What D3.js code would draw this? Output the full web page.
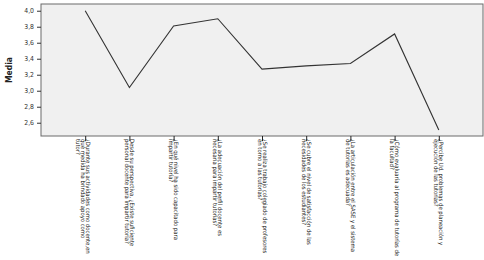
<!DOCTYPE html>
<html>
<head>
<meta charset="utf-8">
<script src="https://cdn.jsdelivr.net/npm/d3@7"></script>
<style>
  body { margin: 0; background: #fff; }
  svg text { font-family: "Liberation Sans Narrow", "DejaVu Sans Condensed", "Liberation Sans", sans-serif; }
</style>
</head>
<body>
<div id="chart"></div>
<script>
// --> DATA

var preguntas = [
    ["¿Durante sus actividades como docente,en", "qué medida ha brindado apoyo como", "tutor?"],
    ["Desde su perspectiva, ¿Existe suficiente", "personal docente para impartir tutoría?"],
    ["¿En qué nivel ha sido capacitado para", "impartir tutoría?"],
    ["¿La adecuación del perfil docente es", "necesaria para impartir tutorías?"],
    ["¿Se realiza trabajo colegiado de profesores", "en torno a las tutorías?"],
    ["¿Se cubre el nivel de satisfacción de las", "necesidades de los estudiantes?"],
    ["¿La articulación entre el SASE y el sistema", "de tutorías es adecuada?"],
    ["¿Cómo evaluaría al programa de tutorías de", "la facultad?"],
    ["¿Percibe Ud. problemas de planeación y", "ejecución de las tutorías?"]
];

var medias = [4.00, 3.04, 3.81, 3.90, 3.27, 3.31, 3.34, 3.71, 2.51];

var yTicks = [2.6, 2.8, 3.0, 3.2, 3.4, 3.6, 3.8, 4.0];

// --> SVG

var width = 484,
    height = 260;

var plot = { left: 41, top: 4, right: 483, bottom: 136 };

var svg = d3.select("#chart").append("svg")
    .attr("width", width)
    .attr("height", height);

var x = d3.scalePoint()
    .domain(d3.range(medias.length))
    .range([plot.left, plot.right])
    .padding(1);

var y = d3.scaleLinear()
    .domain([2.434, 4.084])
    .range([plot.bottom, plot.top]);

svg.append("rect")
    .attr("x", plot.left)
    .attr("y", plot.top)
    .attr("width", plot.right - plot.left)
    .attr("height", plot.bottom - plot.top)
    .style("fill", "#f0f0f0")
    .style("stroke", "#6a6a6a")
    .style("stroke-width", 1);

// y axis
var yAxis = svg.append("g")
    .attr("transform", "translate(" + plot.left + ",0)")
    .call(d3.axisLeft(y)
        .tickValues(yTicks)
        .tickSize(4)
        .tickPadding(3)
        .tickFormat(function (d) { return d3.format(".1f")(d).replace(".", ","); }));

yAxis.select(".domain").remove();
yAxis.selectAll("line").style("stroke", "#333");
yAxis.selectAll("text")
    .style("font-size", "6.8px")
    .style("fill", "#333");

// x axis
var xAxis = svg.append("g")
    .attr("transform", "translate(0," + plot.bottom + ")")
    .call(d3.axisBottom(x).tickSize(5).tickFormat(""));

xAxis.select(".domain").remove();
xAxis.selectAll("line").style("stroke", "#222");

var etiquetas = svg.append("g")
    .selectAll("text")
    .data(preguntas)
    .enter()
    .append("text")
    .attr("transform", function (d, i) {
        return "translate(" + (x(i) + 0.5) + "," + (plot.bottom + 3) + ") rotate(90)";
    })
    .style("font-size", "5.9px")
    .style("fill", "#1a1a1a");

etiquetas.selectAll("tspan")
    .data(function (d) { return d; })
    .enter()
    .append("tspan")
    .attr("x", 0)
    .attr("dy", function (d, i) { return i === 0 ? 0 : 5; })
    .text(function (d) { return d; });

// line
var line = d3.line()
    .x(function (d, i) { return x(i); })
    .y(function (d) { return y(d); });

svg.append("path")
    .datum(medias)
    .attr("d", line)
    .style("fill", "none")
    .style("stroke", "#333")
    .style("stroke-width", 1.1);

// y label
svg.append("text")
    .attr("transform", "translate(12,70) rotate(-90)")
    .attr("text-anchor", "middle")
    .style("font-size", "8.5px")
    .style("font-weight", "bold")
    .style("fill", "#222")
    .text("Media");
</script>
</body>
</html>
